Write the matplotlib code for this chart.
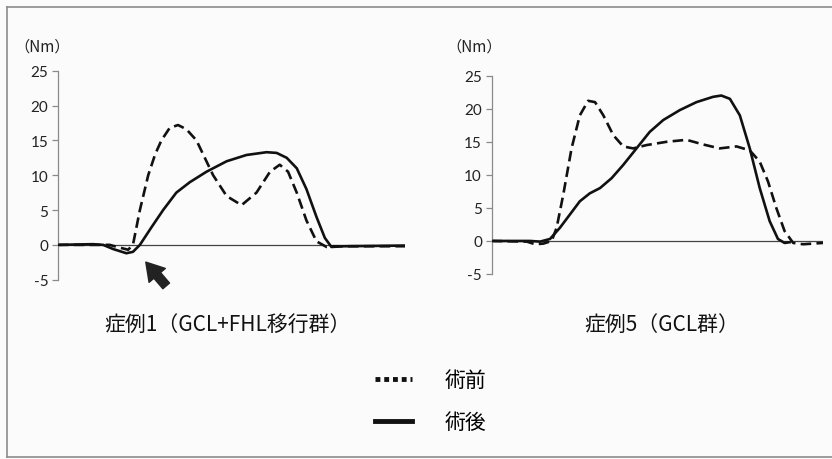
import matplotlib
matplotlib.use("Agg")
import matplotlib.pyplot as plt
from matplotlib.lines import Line2D

plt.rcParams['font.family'] = ['Noto Sans CJK JP', 'DejaVu Sans']

# ---- data (time axis normalised 0..100, torque in Nm) ----
case1_pre_x = [0, 14.9, 17.8, 20.2, 21.6, 23.6, 26.0, 28.0, 29.8, 32.2, 34.6, 37.0, 39.9, 42.3, 44.7,
               48.6, 52.9, 57.2, 61.1, 63.9, 66.3, 68.8, 71.6, 74.5, 77.4, 79.3, 100]
case1_pre_y = [0, 0, -0.4, -0.7, 0, 5, 10, 13, 15, 16.8, 17.2, 16.6, 15, 12.5, 10,
               7, 5.7, 7.5, 10.5, 11.5, 10.5, 7.5, 3.5, 0.5, -0.3, -0.2, -0.2]

case1_post_x = [0, 10.1, 13.0, 15.9, 19.7, 21.6, 23.6, 26.9, 30.3, 34.1, 38.0, 42.8, 48.6, 54.3,
                60.1, 63.0, 65.9, 68.8, 71.6, 74.5, 76.9, 78.8, 82.2, 100]
case1_post_y = [0, 0.1, 0, -0.6, -1.2, -1.0, 0, 2.5, 5, 7.5, 9, 10.5, 12, 12.9,
                13.3, 13.2, 12.5, 11, 8, 4, 1, -0.3, -0.2, -0.1]

case5_pre_x = [0, 10.6, 13.1, 15.6, 18.1, 19.6, 21.6, 24.1, 26.6, 29.1, 31.2, 33.7, 36.7, 39.7,
               42.7, 46.7, 52.8, 58.8, 63.8, 68.8, 73.9, 77.9, 80.9, 83.4, 85.9, 88.4, 91.0, 94.0, 100]
case5_pre_y = [0, -0.1, -0.5, -0.4, 0, 2, 7, 14, 19, 21.2, 21, 19, 16, 14.3,
               14.0, 14.5, 15, 15.3, 14.6, 14.0, 14.3, 13.7, 12, 9, 5, 1.5, -0.3, -0.5, -0.3]

case5_post_x = [0, 11.6, 14.6, 17.6, 20.6, 23.6, 26.6, 29.6, 32.7, 36.2, 39.7, 43.7, 47.7, 51.8,
                56.8, 61.8, 66.8, 69.3, 71.9, 74.9, 77.9, 80.9, 83.9, 86.4, 88.4, 89.9]
case5_post_y = [0, 0, -0.1, 0.3, 2, 4, 6, 7.2, 8, 9.5, 11.5, 14, 16.5, 18.3,
                19.8, 21, 21.8, 22.0, 21.5, 19, 14, 8, 3, 0.3, -0.3, -0.2]

yticks = [-5, 0, 5, 10, 15, 20, 25]
unit_label = '（Nm）'
titles = ['症例1（GCL+FHL移行群）', '症例5（GCL群）']
legend_labels = ['術前', '術後']

W, H = 832, 460
fig = plt.figure(figsize=(W / 100, H / 100), dpi=100)
fig.patch.set_facecolor('#fbfbfb')

def fx(px):
    return px / W

def fy(py):
    return 1 - py / H

ax1 = fig.add_axes([fx(58), fy(280.7), (405 - 58) / W, (280.7 - 71.7) / H])
ax2 = fig.add_axes([fx(491.7), fy(275), (823 - 491.7) / W, (275 - 76.7) / H])

dash = (0, (4.0, 2.0))
for ax, pre, post in [(ax1, (case1_pre_x, case1_pre_y), (case1_post_x, case1_post_y)),
                      (ax2, (case5_pre_x, case5_pre_y), (case5_post_x, case5_post_y))]:
    ax.set_facecolor('none')
    ax.axhline(0, color='#444444', lw=0.9, zorder=1)
    ax.plot(pre[0], pre[1], color='#111111', lw=1.9, ls=dash, zorder=3)
    ax.plot(post[0], post[1], color='#111111', lw=1.9, zorder=2)
    ax.set_xlim(0, 100)
    ax.set_ylim(-5, 25)
    ax.set_yticks(yticks)
    ax.set_yticklabels([str(t) for t in yticks], family=['Lato', 'DejaVu Sans'], fontsize=11)
    for s in ['top', 'right', 'bottom']:
        ax.spines[s].set_visible(False)
    ax.spines['left'].set_color('#8a8a8a')
    ax.spines['left'].set_linewidth(0.9)
    ax.set_xticks([])
    ax.tick_params(axis='y', direction='out', length=4, width=0.9, color='#8a8a8a',
                   labelcolor='#222222', pad=3)

fig.text(fx(42), fy(47), unit_label, ha='center', va='center', fontsize=11, color='#222222')
fig.text(fx(474), fy(47), unit_label, ha='center', va='center', fontsize=11, color='#222222')

fig.text(fx(228), fy(325), titles[0], ha='center', va='center', fontsize=15, color='#111111')
fig.text(fx(662), fy(325), titles[1], ha='center', va='center', fontsize=15, color='#111111')

# arrow pointing at the dip in case 1
fig.patches.append(matplotlib.patches.FancyArrowPatch(
    (fx(168), fy(289)), (fx(144), fy(261)), transform=fig.transFigure,
    arrowstyle='simple,head_width=1.1,head_length=0.9,tail_width=0.45',
    mutation_scale=14, color='#222222'))

handles = [Line2D([], [], color='#111111', lw=3.5, ls=(0, (1, 0.8))),
           Line2D([], [], color='#111111', lw=3.5)]
fig.legend(handles, legend_labels, loc='center', bbox_to_anchor=(fx(431), fy(402)),
           frameon=False, fontsize=15, handlelength=1.75, handletextpad=1.6,
           labelspacing=0.95, borderpad=0, borderaxespad=0)

# outer frame (left, top, bottom edges)
frame_kw = dict(color='#8c8c8c', lw=1.2, transform=fig.transFigure)
fig.add_artist(Line2D([fx(7), fx(7)], [fy(458), fy(8)], **frame_kw))
fig.add_artist(Line2D([fx(7), 1], [fy(8), fy(8)], **frame_kw))
fig.add_artist(Line2D([fx(7), 1], [fy(458), fy(458)], **frame_kw))

fig.savefig('out.png', dpi=100, facecolor=fig.get_facecolor())
